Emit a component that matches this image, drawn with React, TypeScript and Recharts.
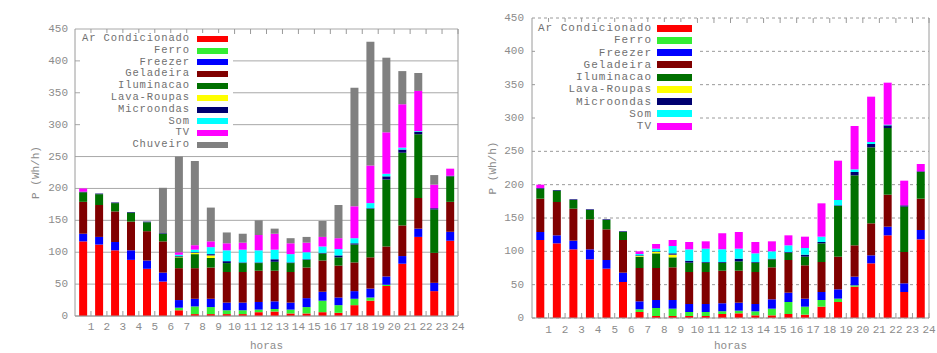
import React from 'react';
import { BarChart, Bar, XAxis, YAxis, CartesianGrid, Legend } from 'recharts';

// hours of the day (x categories)
const horas = ['1', '2', '3', '4', '5', '6', '7', '8', '9', '10', '11', '12', '13', '14', '15', '16', '17', '18', '19', '20', '21', '22', '23', '24'];

// consumption per appliance, Wh/h
const arCondicionado = [117, 112, 103, 88, 74, 54, 9, 3, 3, 3, 3, 6, 7, 4, 4, 6, 5, 17, 24, 47, 82, 124, 39, 118];
const ferro = [0, 0, 0, 0, 0, 0, 4, 12, 11, 6, 6, 4, 4, 6, 10, 18, 12, 10, 5, 2, 0, 0, 0, 0];
const freezer = [12, 12, 13, 15, 13, 14, 12, 12, 13, 12, 12, 12, 12, 11, 14, 14, 12, 12, 14, 13, 12, 13, 13, 14];
const geladeira = [50, 50, 48, 45, 46, 49, 50, 48, 49, 48, 48, 49, 48, 48, 48, 49, 50, 45, 49, 47, 48, 48, 47, 47];
const iluminacao = [15, 17, 13, 14, 14, 12, 17, 22, 15, 14, 14, 12, 14, 14, 12, 11, 13, 28, 76, 105, 114, 100, 68, 40];
const lavaRoupas = [0, 0, 0, 0, 0, 0, 1, 2, 4, 0, 0, 0, 0, 0, 0, 0, 0, 0, 0, 0, 0, 0, 0, 0];
const microondas = [1, 1, 1, 1, 1, 1, 1, 1, 2, 3, 1, 1, 4, 1, 1, 1, 3, 2, 1, 5, 5, 4, 2, 1];
const som = [0, 0, 0, 0, 0, 0, 2, 4, 11, 17, 20, 19, 15, 13, 11, 10, 10, 8, 8, 4, 3, 1, 0, 0];
const tv = [5, 0, 0, 0, 0, 0, 4, 7, 9, 11, 11, 24, 25, 17, 15, 15, 17, 50, 59, 65, 68, 63, 37, 11];
const chuveiro = [0, 0, 0, 0, 0, 71, 150, 132, 53, 17, 14, 23, 8, 8, 9, 25, 52, 186, 194, 117, 52, 28, 15, 0];

const yTicks = [0, 50, 100, 150, 200, 250, 300, 350, 400, 450];

const series = [
    { key: 'arCondicionado', name: 'Ar Condicionado', color: '#ff0000', values: arCondicionado },
    { key: 'ferro', name: 'Ferro', color: '#33ee33', values: ferro },
    { key: 'freezer', name: 'Freezer', color: '#0000ff', values: freezer },
    { key: 'geladeira', name: 'Geladeira', color: '#800000', values: geladeira },
    { key: 'iluminacao', name: 'Iluminacao', color: '#007000', values: iluminacao },
    { key: 'lavaRoupas', name: 'Lava-Roupas', color: '#ffff00', values: lavaRoupas },
    { key: 'microondas', name: 'Microondas', color: '#000070', values: microondas },
    { key: 'som', name: 'Som', color: '#00ffff', values: som },
    { key: 'tv', name: 'TV', color: '#ff00ff', values: tv },
    { key: 'chuveiro', name: 'Chuveiro', color: '#808080', values: chuveiro },
];

const data = horas.map((hora, i) => {
    const row: Record<string, string | number> = { hora };
    series.forEach((s) => {
        row[s.key] = s.values[i];
    });
    return row;
});

const minorTicks: number[] = [];
for (let v = 0; v <= 450; v += 10) minorTicks.push(v);

const MONO = '"Liberation Mono", "DejaVu Sans Mono", monospace';
const FRAME = '#9a9a9a';
const TEXT = '#8c8c8c';
const X_AXIS_H = 30;

type Cfg = {
    left: number;
    width: number;
    height: number;
    margin: { top: number; right: number; bottom: number; left: number };
    yAxisW: number;
    rAxisW: number;
    yTickGap: number;
    xLabelGap: number;
    horasGap: number;
    legend: { left: number; top: number; labelW: number; gap: number; swW: number; swH: number; rowH: number; font: number; spacing: number };
    dashed: boolean;
    withShower: boolean;
};

const leftCfg: Cfg = {
    left: 0,
    width: 470,
    height: 353,
    margin: { top: 29, right: 0, bottom: 7, left: 35 },
    yAxisW: 40,
    rAxisW: 12,
    yTickGap: 7,
    xLabelGap: 11,
    horasGap: 30,
    legend: { left: 80, top: 33, labelW: 110, gap: 7, swW: 31, swH: 6, rowH: 11.8, font: 10.5, spacing: 0.9 },
    dashed: false,
    withShower: true,
};

const rightCfg: Cfg = {
    left: 470,
    width: 467,
    height: 353,
    margin: { top: 18, right: 0, bottom: 5, left: 22 },
    yAxisW: 40,
    rAxisW: 8,
    yTickGap: 8,
    xLabelGap: 12,
    horasGap: 28,
    legend: { left: 66, top: 22, labelW: 116, gap: 5, swW: 35, swH: 7, rowH: 12.25, font: 11, spacing: 1 },
    dashed: true,
    withShower: false,
};

const StackedHours: React.FC<{ cfg: Cfg }> = ({ cfg }) => {
    const plotLeft = cfg.margin.left + cfg.yAxisW;
    const plotRight = cfg.width - cfg.margin.right - cfg.rAxisW;
    const plotTop = cfg.margin.top;
    const plotBottom = cfg.height - cfg.margin.bottom - X_AXIS_H;
    const plotW = plotRight - plotLeft;
    const band = plotW / horas.length;
    const midY = (plotTop + plotBottom) / 2;
    const shown = cfg.withShower ? series : series.filter((s) => s.key !== 'chuveiro');

    // gnuplot-like ticks: labels sit on slot boundaries, marks point inwards
    const xTick = (props: any) => {
        const bx = props.x + band / 2;
        return (
            <g>
                <line x1={bx} x2={bx} y1={plotBottom} y2={plotBottom - 5} stroke={FRAME} />
                <line x1={bx} x2={bx} y1={plotTop} y2={plotTop + 5} stroke={FRAME} />
                <text x={bx} y={plotBottom + cfg.xLabelGap} textAnchor="middle" dominantBaseline="central"
                    fontFamily={MONO} fontSize={11} fill={TEXT}>
                    {props.payload.value}
                </text>
            </g>
        );
    };

    const yTick = (props: any) => (
        <text x={props.x} y={props.y} textAnchor="end" dominantBaseline="central"
            fontFamily={MONO} fontSize={11} fill={TEXT}>
            {props.payload.value}
        </text>
    );

    const minorTick = (props: any) => {
        const len = props.payload.value % 50 === 0 ? 6 : 3;
        return (
            <g>
                <line x1={plotRight} x2={plotRight - len} y1={props.y} y2={props.y} stroke={FRAME} />
                <line x1={plotLeft} x2={plotLeft + len} y1={props.y} y2={props.y} stroke={FRAME} />
            </g>
        );
    };

    const yLabel = () => {
        const x = cfg.margin.left;
        return (
            <text x={x} y={midY} transform={`rotate(-90 ${x} ${midY})`} textAnchor="middle" dy="0.35em"
                fontFamily={MONO} fontSize={11} fill={TEXT}>
                P (Wh/h)
            </text>
        );
    };

    const xLabel = () => (
        <text x={(plotLeft + plotRight) / 2} y={plotBottom + cfg.horasGap} textAnchor="middle" dominantBaseline="central"
            fontFamily={MONO} fontSize={11} fill={TEXT}>
            horas
        </text>
    );

    const lg = cfg.legend;
    const legendContent = () => (
        <div style={{ background: '#fff', width: lg.labelW + lg.gap + lg.swW + 5, fontFamily: MONO, fontSize: lg.font, color: '#707070' }}>
            {shown.map((s) => (
                <div key={s.key} style={{ display: 'flex', alignItems: 'center', height: lg.rowH }}>
                    <span style={{ width: lg.labelW, textAlign: 'right', whiteSpace: 'pre', letterSpacing: lg.spacing, lineHeight: `${lg.rowH}px` }}>{s.name}</span>
                    <span style={{ width: lg.swW, height: lg.swH, marginLeft: lg.gap, background: s.color }} />
                </div>
            ))}
        </div>
    );

    return (
        <div style={{ position: 'absolute', left: cfg.left, top: 0 }}>
            <BarChart width={cfg.width} height={cfg.height} data={data} margin={cfg.margin} barCategoryGap="26%">
                <CartesianGrid vertical={false} stroke={cfg.dashed ? '#9a9a9a' : '#a8a8a8'}
                    strokeDasharray={cfg.dashed ? '3 3' : undefined} />
                <XAxis dataKey="hora" interval={0} height={X_AXIS_H} tickSize={0} tickLine={false}
                    axisLine={{ stroke: FRAME }} tick={xTick} label={{ content: xLabel }} />
                <XAxis xAxisId="top" dataKey="hora" orientation="top" height={0} tick={false} tickLine={false}
                    axisLine={{ stroke: FRAME }} />
                <YAxis type="number" domain={[0, 450]} ticks={yTicks} interval={0} width={cfg.yAxisW}
                    tickSize={0} tickMargin={cfg.yTickGap} tickLine={false} axisLine={{ stroke: FRAME }}
                    tick={yTick} label={{ content: yLabel }} />
                <YAxis yAxisId="minor" orientation="right" type="number" domain={[0, 450]} ticks={minorTicks}
                    interval={0} width={cfg.rAxisW} tickSize={0} tickMargin={0} tickLine={false}
                    axisLine={{ stroke: FRAME }} tick={minorTick} />
                <Legend layout="vertical" align="center" verticalAlign="middle" content={legendContent}
                    wrapperStyle={{ left: lg.left, top: lg.top, width: 'auto' }} />
                {shown.map((s) => (
                    <Bar key={s.key} dataKey={s.key} name={s.name} stackId="a" fill={s.color} isAnimationActive={false} />
                ))}
            </BarChart>
        </div>
    );
};

export default function App() {
    return (
        <div style={{ position: 'absolute', left: 0, top: 0, width: 937, height: 353, background: '#fff' }}>
            <StackedHours cfg={leftCfg} />
            <StackedHours cfg={rightCfg} />
        </div>
    );
}
